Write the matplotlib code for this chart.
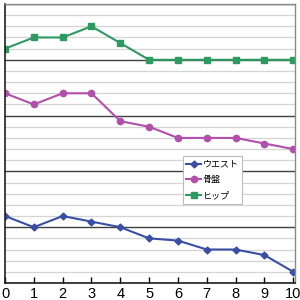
import numpy as np
import matplotlib
matplotlib.use("Agg")
import matplotlib.pyplot as plt
from matplotlib.ticker import MultipleLocator

plt.rcParams['font.family'] = ['Liberation Sans', 'Noto Sans CJK JP', 'DejaVu Sans']

# data
weeks = np.arange(0, 11)
waist = [6, 5, 6, 5.5, 5, 4, 3.8, 3, 3, 2.5, 1]
pelvis = [17, 16, 17, 17, 14.5, 14, 13, 13, 13, 12.5, 12]
hip = [21, 22, 22, 23, 21.5, 20, 20, 20, 20, 20, 20]
labels = ["ウエスト", "骨盤", "ヒップ"]

fig = plt.figure(figsize=(3, 3), dpi=100)
ax = fig.add_axes([5/300, 17/300, 290/300, 279/300])

ax.plot(weeks, waist, color="#3a4fa3", marker="D", ms=3.5, lw=1.5, label=labels[0])
ax.plot(weeks, pelvis, color="#b24fab", marker="o", ms=4.5, lw=1.5, label=labels[1])
ax.plot(weeks, hip, color="#2e9a62", marker="s", ms=4.5, lw=1.5, label=labels[2])

ax.set_xlim(0, 10.06)
ax.set_ylim(0, 25)
ax.xaxis.set_major_locator(MultipleLocator(1))
ax.yaxis.set_major_locator(MultipleLocator(5))
ax.yaxis.set_minor_locator(MultipleLocator(1))
ax.grid(which="major", axis="y", color="#404040", lw=1.0)
ax.grid(which="minor", axis="y", color="#d4d4d4", lw=0.9)
ax.set_axisbelow(True)

ax.tick_params(axis="x", direction="in", length=4, width=1, labelsize=10.5, pad=3)
ax.tick_params(axis="y", which="both", left=False, labelleft=False)

for s in ["left", "bottom"]:
    ax.spines[s].set_color("#202020")
    ax.spines[s].set_linewidth(1.2)
for s in ["top", "right"]:
    ax.spines[s].set_color("#8a8a8a")
    ax.spines[s].set_linewidth(1.0)

leg = ax.legend(loc="upper left", bbox_to_anchor=(0.613, 0.455), fontsize=6.5,
                frameon=True, fancybox=False, edgecolor="#bbbbbb", framealpha=1,
                handlelength=1.6, handletextpad=0.2, borderpad=0.4,
                labelspacing=0.75, borderaxespad=0)
leg.get_frame().set_linewidth(0.8)

fig.savefig("out.png", dpi=100)
